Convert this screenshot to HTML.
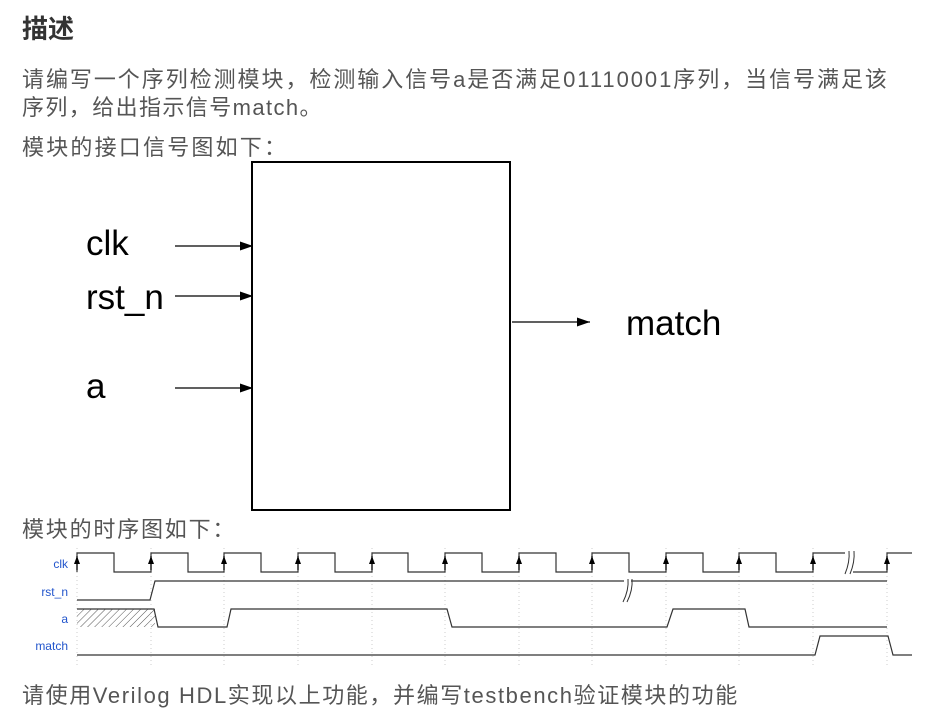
<!DOCTYPE html>
<html><head><meta charset="utf-8"><style>
body{margin:0;width:938px;height:713px;background:#fff;overflow:hidden;position:relative;font-family:"Liberation Sans","Noto Sans CJK SC",sans-serif;}
.t{position:absolute;white-space:nowrap;color:#555;font-size:22px;}
h1{position:absolute;left:22px;top:9px;margin:0;font-size:26px;font-weight:bold;color:#333;}
</style></head><body>
<h1>描述</h1>
<div class="t" style="left:22px;top:62px;letter-spacing:1.95px">请编写一个序列检测模块，检测输入信号a是否满足01110001序列，当信号满足该</div>
<div class="t" style="left:22px;top:90px;letter-spacing:1.4px">序列，给出指示信号match。</div>
<div class="t" style="left:22px;top:130px;letter-spacing:2.2px">模块的接口信号图如下：</div>
<div class="t" style="left:22px;top:512px;letter-spacing:1.8px">模块的时序图如下：</div>
<div class="t" style="left:22px;top:678px;letter-spacing:1.6px">请使用Verilog HDL实现以上功能，并编写testbench验证模块的功能</div>
<svg width="938" height="713" style="position:absolute;left:0;top:0">
<defs><marker id="ar" markerWidth="13" markerHeight="9" refX="13" refY="4.5" orient="auto" markerUnits="userSpaceOnUse"><path d="M0,0L13,4.5L0,9z" fill="#000"/></marker>
<marker id="ua" markerWidth="6" markerHeight="8" refX="3" refY="0" orient="0" markerUnits="userSpaceOnUse"><path d="M0,8L3,0L6,8z" fill="#000"/></marker>
<pattern id="h" width="5" height="5" patternUnits="userSpaceOnUse" patternTransform="rotate(45)"><line x1="0" y1="0" x2="0" y2="5" stroke="#555" stroke-width="1"/></pattern></defs>
<rect x="252" y="162" width="258" height="348" fill="none" stroke="#000" stroke-width="2"/>
<g stroke="#000" stroke-width="1.3">
<line x1="175" y1="246" x2="253" y2="246" marker-end="url(#ar)"/>
<line x1="175" y1="296" x2="253" y2="296" marker-end="url(#ar)"/>
<line x1="175" y1="388" x2="253" y2="388" marker-end="url(#ar)"/>
<line x1="512" y1="322" x2="590" y2="322" marker-end="url(#ar)"/>
</g>
<g font-size="35" fill="#000" font-family="Liberation Sans,sans-serif">
<text x="86" y="255">clk</text><text x="86" y="309">rst_n</text><text x="86" y="398">a</text><text x="626" y="335">match</text>
</g>
<g stroke="#ccc" stroke-dasharray="1,3" stroke-width="1">
<line x1="77" y1="548" x2="77" y2="665"/><line x1="151" y1="548" x2="151" y2="665"/><line x1="224" y1="548" x2="224" y2="665"/><line x1="298" y1="548" x2="298" y2="665"/><line x1="372" y1="548" x2="372" y2="665"/><line x1="445" y1="548" x2="445" y2="665"/><line x1="519" y1="548" x2="519" y2="665"/><line x1="592" y1="548" x2="592" y2="665"/><line x1="666" y1="548" x2="666" y2="665"/><line x1="739" y1="548" x2="739" y2="665"/><line x1="813" y1="548" x2="813" y2="665"/><line x1="887" y1="548" x2="887" y2="665"/>
</g>
<g font-size="12" fill="#2255cc" text-anchor="end">
<text x="68" y="568">clk</text><text x="68" y="596">rst_n</text><text x="68" y="623">a</text><text x="68" y="650">match</text>
</g>
<rect x="77" y="609" width="78" height="18" fill="url(#h)"/>
<g fill="none" stroke="#333" stroke-width="1.2">
<path d="M77,572V553H114V572H151V553H188V572H224V553H261V572H298V553H335V572H372V553H408V572H445V553H482V572H519V553H556V572H592V553H629V572H666V553H703V572H739V553H776V572H813V553H850V572H887V553H912"/>
<path d="M77,600H150L155,581H887"/>
<path d="M77,609H154L158,627H227L231,609H447L452,627H667L673,609H745L749,627H887"/>
<path d="M77,655H815L820,636H888L893,655H912"/>
</g>
<g stroke="#000" stroke-width="1.2">
<line x1="77" y1="570" x2="77" y2="556" marker-end="url(#ua)"/>
<line x1="151" y1="570" x2="151" y2="556" marker-end="url(#ua)"/><line x1="224" y1="570" x2="224" y2="556" marker-end="url(#ua)"/><line x1="298" y1="570" x2="298" y2="556" marker-end="url(#ua)"/><line x1="372" y1="570" x2="372" y2="556" marker-end="url(#ua)"/><line x1="445" y1="570" x2="445" y2="556" marker-end="url(#ua)"/><line x1="519" y1="570" x2="519" y2="556" marker-end="url(#ua)"/><line x1="592" y1="570" x2="592" y2="556" marker-end="url(#ua)"/><line x1="666" y1="570" x2="666" y2="556" marker-end="url(#ua)"/><line x1="739" y1="570" x2="739" y2="556" marker-end="url(#ua)"/><line x1="813" y1="570" x2="813" y2="556" marker-end="url(#ua)"/><line x1="887" y1="570" x2="887" y2="556" marker-end="url(#ua)"/>
</g>
<rect x="845" y="551" width="8" height="23" fill="#fff"/>
<path d="M845,574Q850,562 849,551M850,574Q855,562 854,551" stroke="#333" fill="none"/>
<rect x="624" y="579" width="7" height="23" fill="#fff"/>
<path d="M623,602Q629,590 628,579M627,602Q633,590 632,579" stroke="#333" fill="none"/>
</svg>
</body></html>
